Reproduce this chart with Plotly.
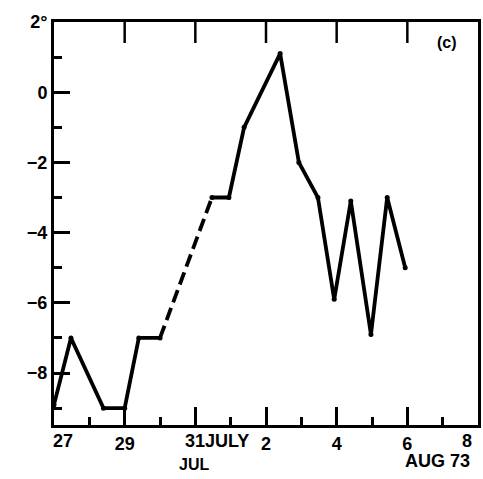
import plotly.graph_objects as go

# Day number counted from 0 July (Aug 1 = 32)
days = [27.0, 27.48, 28.4, 29.0, 29.4, 30.0, 31.47, 31.95, 32.38, 33.4,
        33.93, 34.47, 34.93, 35.4, 35.97, 36.43, 36.94]
values = [-8.9, -7.0, -9.0, -9.0, -7.0, -7.0, -3.0, -3.0, -1.0, 1.1,
          -2.0, -3.0, -5.9, -3.1, -6.9, -3.0, -5.0]
# segment index that is drawn dashed (between days[5] and days[6])
dashed_segment = 5

x_tickvals = [27, 29, 31, 33, 35, 37, 39]
x_ticktext = ["", "29", "", "2", "4", "6", ""]
x_minor = [28, 30, 32, 34, 36, 38]
x_top_ticks = [29, 31, 33, 35, 37]
y_tickvals = [2, 0, -2, -4, -6, -8]
y_ticktext = ["2°", "0", "−2", "−4", "−6", "−8"]
y_minor = [1, -1, -3, -5, -7, -9]
Y_RANGE = [-9.48, 2]

FONT = "Liberation Sans"

fig = go.Figure()
d = dashed_segment
fig.add_trace(go.Scatter(x=days[:d + 1], y=values[:d + 1], mode="lines+markers",
                         line=dict(color="black", width=3.8),
                         marker=dict(color="black", size=5)))
fig.add_trace(go.Scatter(x=days[d:d + 2], y=values[d:d + 2], mode="lines",
                         line=dict(color="black", width=3.8, dash="13px,6px")))
fig.add_trace(go.Scatter(x=days[d + 1:], y=values[d + 1:], mode="lines+markers",
                         line=dict(color="black", width=3.8),
                         marker=dict(color="black", size=5)))
# inward tick marks along the top frame (clipped at the axis)
fig.add_trace(go.Scatter(x=x_top_ticks, y=[Y_RANGE[1]] * len(x_top_ticks),
                         mode="markers", cliponaxis=True, hoverinfo="skip",
                         marker=dict(symbol="line-ns", size=30,
                                     line=dict(color="black", width=2.5))))

tickfont = dict(family=FONT, size=18, color="black", weight="bold")
smallfont = dict(family=FONT, size=16, color="black", weight="bold")

fig.update_layout(
    width=483, height=479,
    margin=dict(l=54, r=5, t=22, b=54),
    plot_bgcolor="white", paper_bgcolor="white",
    showlegend=False,
    xaxis=dict(range=[27, 39], tickvals=x_tickvals, ticktext=x_ticktext,
               ticks="inside", ticklen=18, tickwidth=2.5, tickcolor="black",
               showline=True, linewidth=3, linecolor="black", mirror=True,
               showgrid=False, zeroline=False, tickfont=tickfont,
               automargin=False,
               minor=dict(tickvals=x_minor, ticks="inside", ticklen=8,
                          tickwidth=2.5, tickcolor="black", showgrid=False)),
    yaxis=dict(range=Y_RANGE, tickvals=y_tickvals, ticktext=y_ticktext,
               ticks="inside", ticklen=16, tickwidth=2.5, tickcolor="black",
               showline=True, linewidth=3, linecolor="black", mirror=True,
               showgrid=False, zeroline=False, tickfont=tickfont,
               automargin=False,
               minor=dict(tickvals=y_minor, ticks="inside", ticklen=8,
                          tickwidth=2.5, tickcolor="black", showgrid=False)),
    annotations=[
        dict(text="27", x=27, xshift=9, y=-0.04, xref="x", yref="paper",
             xanchor="center", yanchor="middle", showarrow=False, font=tickfont),
        dict(text="31JULY", x=30.65, y=-0.04, xref="x", yref="paper",
             xanchor="left", yanchor="middle", showarrow=False, font=tickfont),
        dict(text="8", x=39, xshift=-11, y=-0.04, xref="x", yref="paper",
             xanchor="center", yanchor="middle", showarrow=False, font=tickfont),
        dict(text="JUL", x=30.96, y=-0.097, xref="x", yref="paper",
             xanchor="center", yanchor="middle", showarrow=False, font=smallfont),
        dict(text="AUG 73", x=37.85, y=-0.089, xref="x", yref="paper",
             xanchor="center", yanchor="middle", showarrow=False,
             font=dict(family=FONT, size=18, color="black", weight="bold")),
        dict(text="(c)", x=38.12, y=0.95, xref="x", yref="paper",
             xanchor="center", yanchor="middle", showarrow=False,
             font=dict(family=FONT, size=16, color="black", weight="bold")),
    ],
)

fig.write_html("out.html", config={"displayModeBar": False},
               post_script="document.body.style.margin='0px';"
                           "document.body.style.overflow='hidden';")
